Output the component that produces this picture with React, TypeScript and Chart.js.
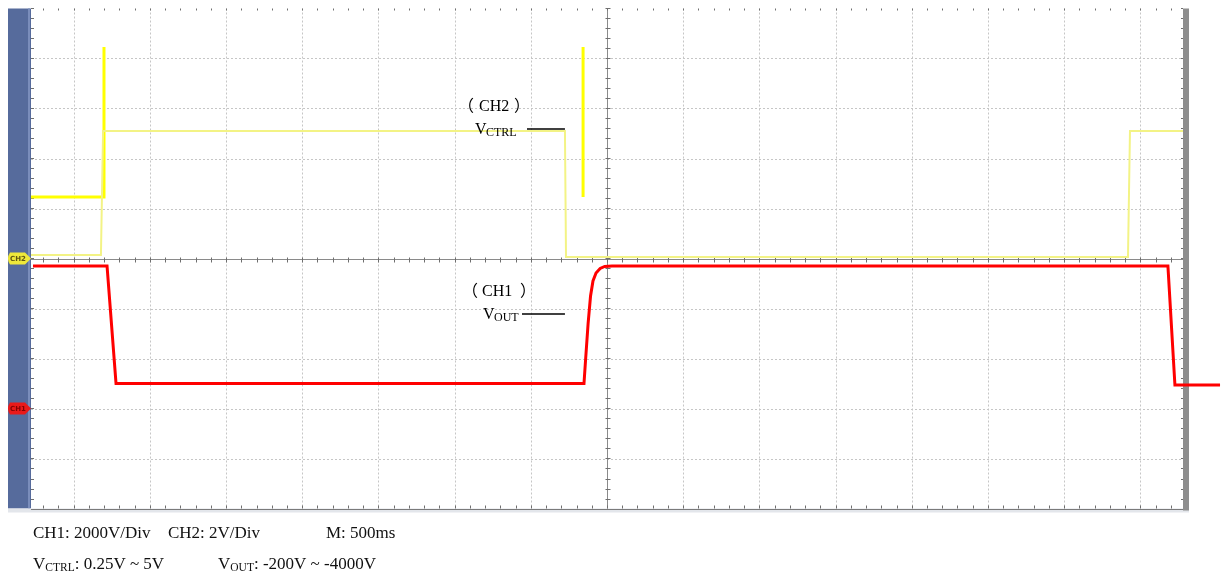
import React, { useEffect, useRef } from "react";
import { Chart, registerables } from "chart.js";

Chart.register(...registerables);

// Time axis in ms (M: 500ms / div), vertical axis in screen divisions
const ch2Time = [-3780, -3321, -3307, -276, -269, 3419, 3432, 3780];
const ch2Div = [0.07, 0.07, 2.55, 2.55, 0.03, 0.03, 2.55, 2.55];

const spikeTime = [-3780, -3301, -3301, -3230, -157, -157];
const spikeDiv = [1.23, 1.23, 4.23, null, 4.23, 1.23];

const ch1Time = [-3767, -3281, -3222, -151, -140, -124, -108, -92, -72, -45, -15, 33, 3681, 3727, 4023];
const ch1Div = [-0.15, -0.15, -2.5, -2.5, -2.0, -1.3, -0.75, -0.45, -0.29, -0.2, -0.16, -0.15, -0.15, -2.53, -2.53];

const xGridDivs = [-7, -6, -5, -4, -3, -2, -1, 0, 1, 2, 3, 4, 5, 6, 7];
const yGridDivs = [-4, -3, -2, -1, 0, 1, 2, 3, 4];
const MS_PER_DIV = 500;
const CH1_GROUND_DIV = -3;
const CH2_GROUND_DIV = 0;

const captionLine1 = ["CH1: 2000V/Div", "CH2: 2V/Div", "M: 500ms"];
const ctrlRange = ": 0.25V ~ 5V";
const outRange = ": -200V ~ -4000V";

const SERIF = "'Liberation Serif', 'Times New Roman', serif";
const CJK = "'Noto Sans CJK SC'";

const toPoints = (xs: number[], ys: (number | null)[]) => xs.map((x, i) => ({ x, y: ys[i] }));

const scopePlugin = {
  id: "scope",
  beforeDatasetsDraw(chart: any) {
    const { ctx, chartArea, scales } = chart;
    const { left, right, top, bottom } = chartArea;
    const xs = scales.x;
    const ys = scales.y;
    ctx.save();
    // left blue panel
    ctx.fillStyle = "#566b9c";
    ctx.fillRect(8, top, left - 8, bottom - top);
    ctx.fillStyle = "#7a8dbb";
    ctx.fillRect(left - 3, top, 2, bottom - top);
    // bottom light strip
    ctx.fillStyle = "#e3e6eb";
    ctx.fillRect(8, bottom, right + 6 - 8, 4);
    // right grey bar
    ctx.fillStyle = "#8e8e8e";
    ctx.fillRect(right, top, 6, bottom - top + 2);

    // dotted grid
    ctx.lineWidth = 1;
    ctx.strokeStyle = "#c6c6c6";
    ctx.setLineDash([2, 2]);
    xGridDivs.forEach((d) => {
      if (d === 0) return;
      const px = Math.round(xs.getPixelForValue(d * MS_PER_DIV)) + 0.5;
      ctx.beginPath();
      ctx.moveTo(px, top);
      ctx.lineTo(px, bottom);
      ctx.stroke();
    });
    yGridDivs.forEach((d) => {
      if (d === 0) return;
      const py = Math.round(ys.getPixelForValue(d)) + 0.5;
      ctx.beginPath();
      ctx.moveTo(left, py);
      ctx.lineTo(right, py);
      ctx.stroke();
    });
    ctx.setLineDash([]);

    // centre cross-hair
    const x0 = Math.round(xs.getPixelForValue(0)) + 0.5;
    const y0 = Math.round(ys.getPixelForValue(0)) + 0.5;
    ctx.strokeStyle = "#8a8a8a";
    ctx.beginPath();
    ctx.moveTo(left, y0);
    ctx.lineTo(right, y0);
    ctx.moveTo(x0, top);
    ctx.lineTo(x0, bottom);
    ctx.stroke();

    // minor ticks
    ctx.strokeStyle = "#6f6f6f";
    ctx.beginPath();
    for (let d = -7.6; d <= 7.6; d += 0.2) {
      const px = Math.round(xs.getPixelForValue(d * MS_PER_DIV)) + 0.5;
      if (px < left || px > right) continue;
      ctx.moveTo(px, y0 - 2);
      ctx.lineTo(px, y0 + 3);
      ctx.moveTo(px, bottom);
      ctx.lineTo(px, bottom - 3);
      ctx.moveTo(px, top);
      ctx.lineTo(px, top + 2);
    }
    for (let d = -5; d <= 5.001; d += 0.2) {
      const py = Math.round(ys.getPixelForValue(d)) + 0.5;
      ctx.moveTo(x0 - 2, py);
      ctx.lineTo(x0 + 3, py);
      ctx.moveTo(left, py);
      ctx.lineTo(left + 3, py);
      ctx.moveTo(right, py);
      ctx.lineTo(right - 2, py);
    }
    ctx.stroke();
    // bottom edge
    ctx.strokeStyle = "#7a7a7a";
    ctx.beginPath();
    ctx.moveTo(left, Math.round(bottom) + 0.5);
    ctx.lineTo(right, Math.round(bottom) + 0.5);
    ctx.stroke();
    ctx.restore();
  },
  afterDatasetsDraw(chart: any) {
    const { ctx, chartArea, scales } = chart;
    const { left } = chartArea;
    const xs = scales.x;
    const ys = scales.y;
    ctx.save();

    // channel markers on the left panel
    const tag = (yDiv: number, fill: string, label: string, textColor: string) => {
      const py = ys.getPixelForValue(yDiv);
      ctx.fillStyle = fill;
      ctx.beginPath();
      ctx.moveTo(10, py - 6);
      ctx.lineTo(left - 6, py - 6);
      ctx.lineTo(left, py);
      ctx.lineTo(left - 6, py + 6);
      ctx.lineTo(10, py + 6);
      ctx.quadraticCurveTo(6, py, 10, py - 6);
      ctx.fill();
      ctx.fillStyle = textColor;
      ctx.font = "bold 7px 'DejaVu Sans'";
      ctx.textAlign = "center";
      ctx.textBaseline = "middle";
      ctx.fillText(label, 18, py + 0.5);
    };
    tag(CH2_GROUND_DIV, "#efe83a", "CH2", "rgba(70,60,10,0.85)");
    tag(CH1_GROUND_DIV, "#ea1a1a", "CH1", "rgba(120,0,0,0.9)");

    // annotations
    ctx.textAlign = "left";
    ctx.textBaseline = "alphabetic";
    ctx.fillStyle = "#000";
    ctx.strokeStyle = "#000";
    ctx.lineWidth = 1.6;
    const annotate = (
      x1: number, x2: number, yDiv: number, ch: string, sub: string,
      openDx: number, chDx: number, closeDx: number, vDx: number
    ) => {
      const px1 = xs.getPixelForValue(x1);
      const px2 = xs.getPixelForValue(x2);
      const py = ys.getPixelForValue(yDiv);
      ctx.beginPath();
      ctx.moveTo(px1, py);
      ctx.lineTo(px2, py);
      ctx.stroke();
      const ty = py - 18;
      ctx.font = "16px " + CJK;
      ctx.fillText("（", px1 + openDx, ty);
      ctx.fillText("）", px1 + closeDx, ty);
      ctx.font = "16px " + SERIF;
      ctx.fillText(ch, px1 + chDx, ty);
      ctx.fillText("V", px1 + vDx, py + 5);
      ctx.font = "12px " + SERIF;
      ctx.fillText(sub, px1 + vDx + 11, py + 7);
    };
    annotate(-525, -276, 2.59, "CH2", "CTRL", -69, -48, -13, -52);
    annotate(-558, -276, -1.11, "CH1", "OUT", -60, -40, -2, -39);

    // caption
    ctx.font = "17px " + SERIF;
    ctx.fillStyle = "#111";
    ctx.fillText(captionLine1[0], 33, 538);
    ctx.fillText(captionLine1[1], 168, 538);
    ctx.fillText(captionLine1[2], 326, 538);
    const subText = (x: number, base: number, sub: string, rest: string) => {
      ctx.font = "17px " + SERIF;
      ctx.fillText("V", x, base);
      const vw = ctx.measureText("V").width;
      ctx.font = "11.5px " + SERIF;
      ctx.fillText(sub, x + vw, base + 2);
      const sw = ctx.measureText(sub).width;
      ctx.font = "17px " + SERIF;
      ctx.fillText(rest, x + vw + sw, base);
    };
    subText(33, 569, "CTRL", ctrlRange);
    subText(218, 569, "OUT", outRange);
    ctx.restore();
  },
};

export default function App() {
  const ref = useRef<HTMLCanvasElement | null>(null);
  useEffect(() => {
    if (!ref.current) return;
    const chart = new Chart(ref.current, {
      type: "line",
      data: {
        datasets: [
          {
            label: "CH2 VCTRL",
            data: toPoints(ch2Time, ch2Div) as any,
            borderColor: "#f3f385",
            borderWidth: 2,
            pointRadius: 0,
            tension: 0,
          },
          {
            label: "CH2 edge",
            data: toPoints(spikeTime, spikeDiv) as any,
            borderColor: "#ffff00",
            borderWidth: 3,
            pointRadius: 0,
            tension: 0,
            spanGaps: false,
          },
          {
            label: "CH1 VOUT",
            data: toPoints(ch1Time, ch1Div) as any,
            borderColor: "#ff0000",
            borderWidth: 3,
            pointRadius: 0,
            tension: 0,
            clip: false as any,
          },
        ],
      },
      options: {
        animation: false,
        responsive: false,
        devicePixelRatio: 1,
        layout: { padding: { left: 31, top: 8.5, right: 39, bottom: 69.5 } },
        plugins: { legend: { display: false }, tooltip: { enabled: false } },
        scales: {
          x: { type: "linear", display: false, min: -3780, max: 3780 },
          y: { type: "linear", display: false, min: -5, max: 5 },
        },
      },
      plugins: [scopePlugin],
    });
    return () => chart.destroy();
  }, []);
  return (
    <div style={{ position: "fixed", left: 0, top: 0, width: 1222, height: 578, background: "#fff" }}>
      <canvas ref={ref} width={1222} height={578} style={{ width: 1222, height: 578, display: "block" }} />
    </div>
  );
}
